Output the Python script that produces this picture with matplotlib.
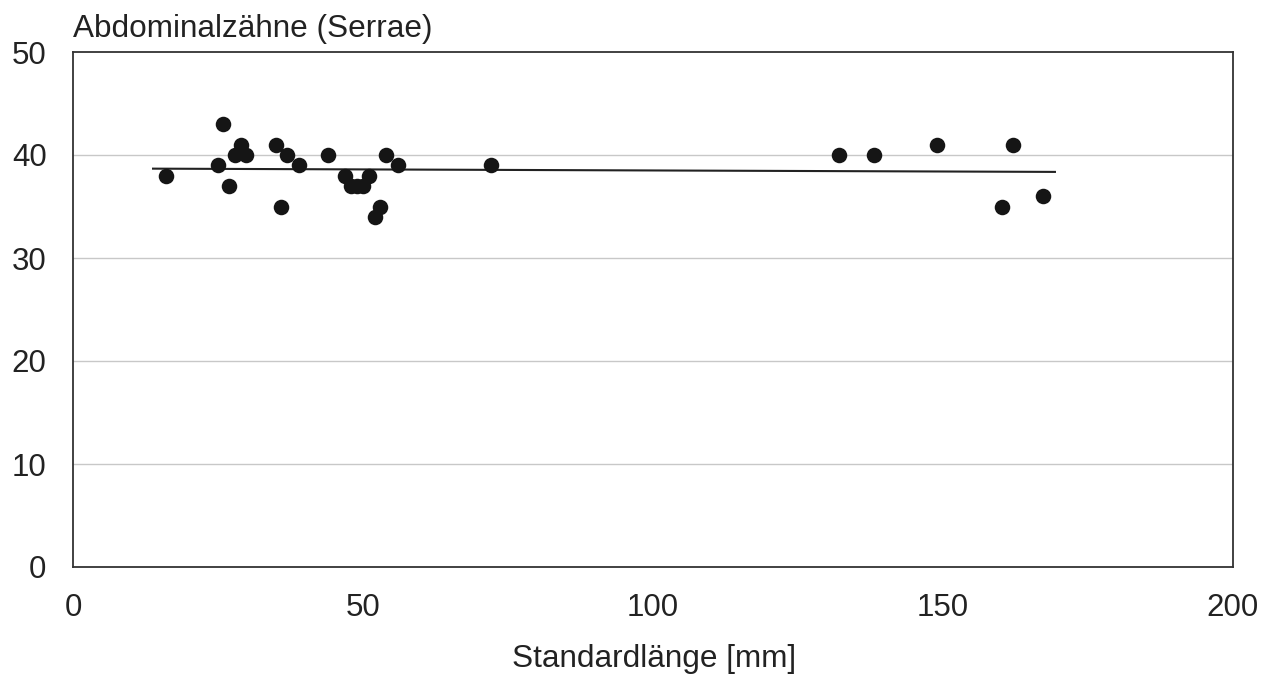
import numpy as np
import matplotlib.pyplot as plt

# Standardlänge [mm] und Abdominalzähne (Serrae)
laenge = [16.0, 25.0, 25.9, 26.9, 27.9, 29.0, 29.9, 35.0, 35.9, 36.9, 38.9,
          43.9, 46.9, 48.0, 49.0, 50.0, 51.0, 52.0, 53.0, 54.0, 56.0, 72.0,
          132.1, 138.1, 149.0, 160.2, 162.1, 167.2]
serrae = [38, 39, 43, 37, 40, 41, 40, 41, 35, 40, 39,
          40, 38, 37, 37, 37, 38, 34, 35, 40, 39, 39,
          40, 40, 41, 35, 41, 36]

x_ticks = [0, 50, 100, 150, 200]
y_ticks = [0, 10, 20, 30, 40, 50]
linie_bereich = [13.8, 169.3]

plt.rcParams['font.family'] = ['Liberation Sans', 'DejaVu Sans']

fig = plt.figure(figsize=(12.63, 6.75), dpi=100)
ax = fig.add_axes([73/1263, 1 - 567/675, 1160/1263, 515/675])

ax.scatter(laenge, serrae, s=125, color="#151515", zorder=3, linewidths=0)

# lineare Regression
k, d = np.polyfit(laenge, serrae, 1)
xs = np.array(linie_bereich)
ax.plot(xs, k * xs + d, color="#222222", linewidth=1.5, zorder=2)

ax.set_xlim(0, 200)
ax.set_ylim(0, 50)
ax.set_xticks(x_ticks)
ax.set_yticks(y_ticks)
ax.tick_params(length=0, labelsize=22.5, colors="#222222", pad=19)
for y in y_ticks[1:-1]:
    ax.axhline(y, color="#c8c8c8", linewidth=1, zorder=1)
for s in ax.spines.values():
    s.set_color("#333333")
    s.set_linewidth(1.3)

fig.text(73/1263, 1 - 37/675, "Abdominalzähne (Serrae)", fontsize=22.7,
         color="#222222", va="baseline", ha="left")
fig.text(654/1263, 1 - 667/675, "Standardlänge [mm]", fontsize=22.7,
         color="#222222", va="baseline", ha="center")

fig.savefig("out.png", dpi=100)
